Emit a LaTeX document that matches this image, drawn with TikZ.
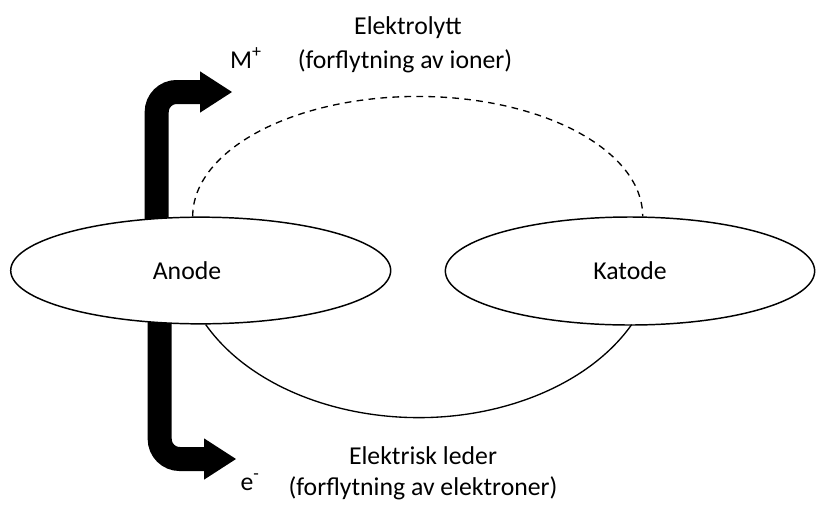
\documentclass[tikz,border=0pt]{standalone}
\usepackage{fontspec}
\setmainfont{Carlito}
\usetikzlibrary{arrows.meta, calc, backgrounds, shapes.geometric}
\tikzset{
  elek/.style={ellipse, draw=black, line width=1.1pt, fill=white, inner sep=0pt},
  txt/.style={font=\fontsize{19.3}{23}\selectfont, inner sep=0pt, anchor=base},
  pil/.style={line width=18pt, rounded corners=15pt,
              -{Triangle[length=24pt, width=31pt, line width=0pt]}},
  elyt/.style={line width=1pt, dash pattern=on 5pt off 4pt},
  leder/.style={line width=1pt}
}
\begin{document}
\begin{tikzpicture}[x=0.75pt, y=0.75pt]
\useasboundingbox (0,0) rectangle (817,-504);
\node[elek, minimum width=285pt, minimum height=80pt] (anode) at (200.7,-270.5) {};
\node[elek, minimum width=277pt, minimum height=81pt] (katode) at (630,-271) {};
\node[txt] (anodenavn) at (187,-279) {Anode};
\node[txt] (katodenavn) at (630,-279) {Katode};

\node[txt] (elyt1) at (408,-34) {Elektrolytt};
\node[txt] (elyt2) at (405,-68) {(forflytning av ioner)};
\node[txt] (mion) at (246,-68) {M\textsuperscript{+}};
\node[txt] (leder1) at (423,-464) {Elektrisk leder};
\node[txt] (leder2) at (423,-495) {(forflytning av elektroner)};
\node[txt] (elektron) at (250,-490) {e\textsuperscript{-}};

\coordinate (mtip) at (232,-92);
\coordinate (etip) at (236,-459);
\begin{scope}[on background layer]
\draw[pil] ($(anode.center)+(-44,0)$) |- (mtip);
\draw[pil] ($(anode.center)+(-41,0)$) |- (etip);
\end{scope}
\draw[elyt] ($(anode.north)+(-8,0)$) arc[start angle=180, end angle=0, x radius=168.75pt, y radius=90pt];
\draw[leder] ($(anode.south)+(5,0)$) arc[start angle=206.5, end angle=333.5, x radius=178.5pt, y radius=126pt];
\end{tikzpicture}
\end{document}
